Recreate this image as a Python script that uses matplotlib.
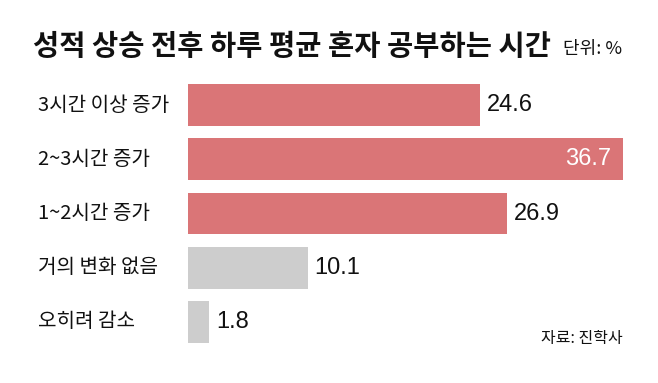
import matplotlib
matplotlib.use("Agg")
import matplotlib.pyplot as plt

plt.rcParams['font.family'] = ['Noto Sans CJK KR', 'DejaVu Sans']

categories = ["3시간 이상 증가", "2~3시간 증가", "1~2시간 증가", "거의 변화 없음", "오히려 감소"]
values = [24.6, 36.7, 26.9, 10.1, 1.8]
colors = ["#DA7577", "#DA7577", "#DA7577", "#CDCDCD", "#CDCDCD"]
title = "성적 상승 전후 하루 평균 혼자 공부하는 시간"
unit = "단위: %"
source = "자료: 진학사"

num_font = ['Liberation Sans', 'DejaVu Sans']

W, H = 658, 383
fig = plt.figure(figsize=(W/100, H/100), dpi=100)
ax = fig.add_axes([188/W, 1-349/H, 435/W, 271/H])
y = list(range(len(categories)))
ax.barh(y, values, height=0.77, color=colors)
ax.set_xlim(0, 36.7)
ax.set_ylim(len(categories)-0.5, -0.5)
ax.axis('off')

for i, (c, v) in enumerate(zip(categories, values)):
    ax.annotate(c, xy=(0, i), xycoords=('axes fraction', 'data'),
                xytext=(38-188, 0), textcoords='offset pixels',
                ha='left', va='center', fontsize=14.5, color='#111111')
    if v == max(values):
        ax.annotate(f"{v}", xy=(v, i), xytext=(-12, 0), textcoords='offset pixels',
                    ha='right', va='center', fontsize=17, color='white', family=num_font)
    else:
        ax.annotate(f"{v}", xy=(v, i), xytext=(7, 0), textcoords='offset pixels',
                    ha='left', va='center', fontsize=17, color='#111111', family=num_font)

fig.text(33/W, 1-47/H, title, ha='left', va='center', fontsize=20.5,
         fontweight='bold', color='#111111')
fig.text(622/W, 1-49/H, unit, ha='right', va='center', fontsize=13, color='#111111')
fig.text(623/W, 1-338/H, source, ha='right', va='center', fontsize=11.5, color='#111111')

fig.savefig("out.png", dpi=100)
